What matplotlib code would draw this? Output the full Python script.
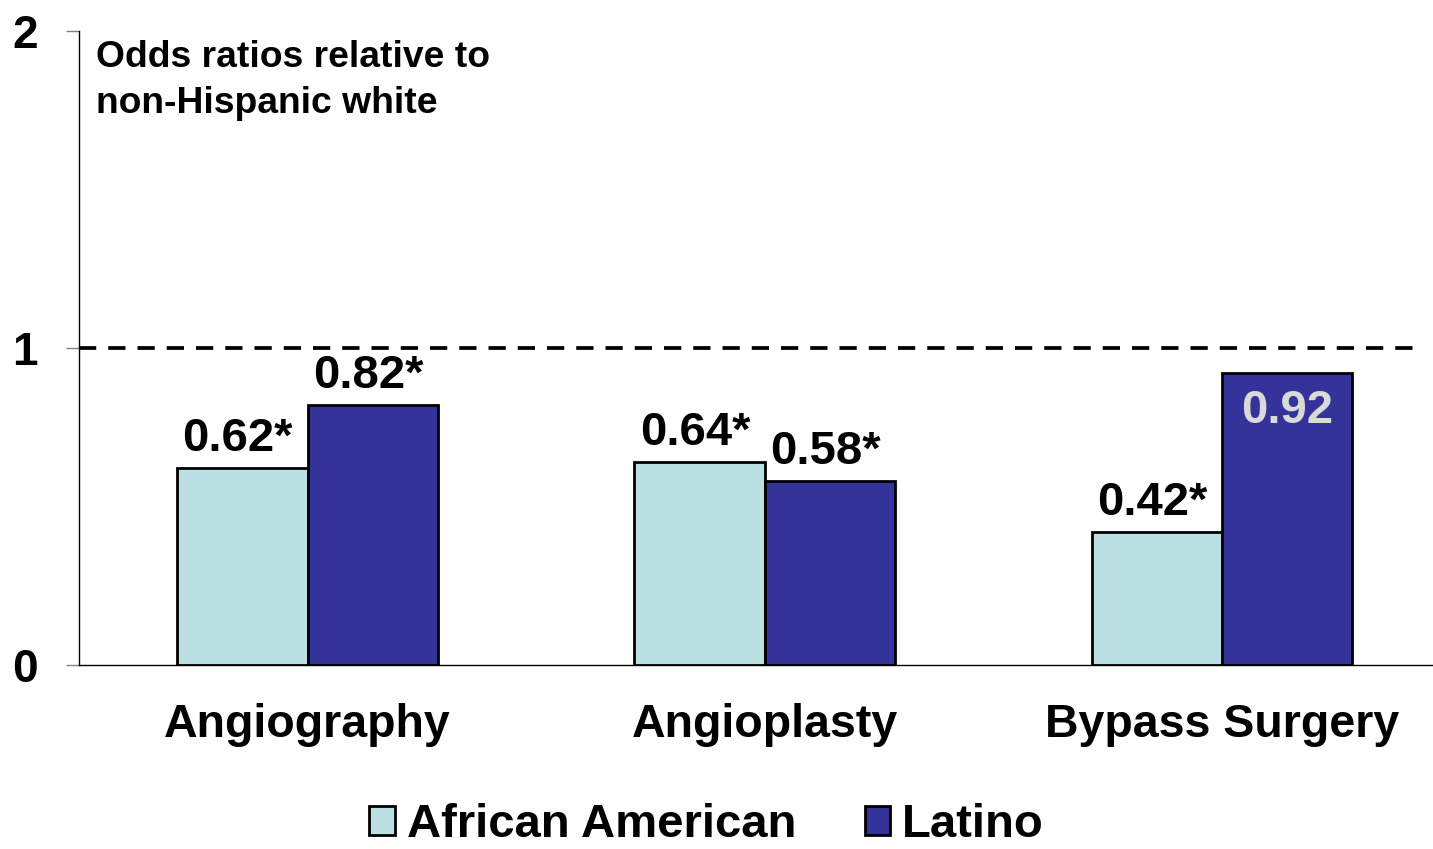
import numpy as np
import matplotlib
matplotlib.use("Agg")
import matplotlib.pyplot as plt
from matplotlib.patches import Patch

plt.rcParams["font.family"] = ["Liberation Sans", "DejaVu Sans"]
plt.rcParams["font.weight"] = "bold"

# ---------------------------------------------------------------------------
# Data: odds ratios relative to non-Hispanic white
# ---------------------------------------------------------------------------
procedures = ["Angiography", "Angioplasty", "Bypass Surgery"]
series_names = ["African American", "Latino"]
african_american = [0.62, 0.64, 0.42]
latino = [0.82, 0.58, 0.92]
aa_significant = [True, True, True]
latino_significant = [True, True, False]

colors = ["#BBE0E3", "#333399"]
bar_w = 0.285

fig = plt.figure(figsize=(14.33, 8.49), dpi=100)
ax = fig.add_axes([0.0551, 0.2167, 0.9449, 0.7468])

x = np.arange(len(procedures))
series = [african_american, latino]
flags = [aa_significant, latino_significant]
offsets = [-bar_w / 2, bar_w / 2]

for vals, sig, col, off in zip(series, flags, colors, offsets):
    bars = ax.bar(x + off, vals, width=bar_w, color=col,
                  edgecolor="black", linewidth=2.0, zorder=3)
    for b, v, s in zip(bars, vals, sig):
        cx = b.get_x() + b.get_width() / 2
        if s:
            ax.text(cx - 0.01, v + 0.022, f"{v:.2f}*", ha="center", va="bottom",
                    fontsize=34, fontweight="bold", color="black")
        else:
            # non-significant value sits inside the bar
            ax.text(cx, v - 0.05, f"{v:.2f}", ha="center", va="top",
                    fontsize=34, fontweight="bold", color="#D9D9D9")

# reference line at odds ratio = 1
ax.axhline(1.0, xmin=0.0, xmax=0.985, color="black", lw=2.7,
           dashes=(4.6, 3.2), zorder=2)

ax.set_xlim(-0.5, 2.462)
ax.set_ylim(0, 2)
ax.set_yticks([0, 1, 2])
ax.set_yticklabels(["0", "1", "2"])
ax.set_xticks(x)
ax.set_xticklabels(procedures)

ax.tick_params(axis="y", direction="out", length=9.5, width=1,
               color="#808080", pad=20, labelsize=33)
ax.tick_params(axis="x", length=0, pad=27, labelsize=33.5)
for lab in ax.get_xticklabels() + ax.get_yticklabels():
    lab.set_fontweight("bold")

for side in ["top", "right"]:
    ax.spines[side].set_visible(False)
ax.spines["left"].set_linewidth(1)
ax.spines["bottom"].set_linewidth(1)

ax.text(-0.463, 1.97, "Odds ratios relative to\nnon-Hispanic white",
        ha="left", va="top", fontsize=26.8, fontweight="bold",
        linespacing=1.38)

handles = [Patch(facecolor=c, edgecolor="black", linewidth=2.0) for c in colors]
fig.legend(handles, series_names, loc="center", bbox_to_anchor=(0.493, 0.028),
           ncol=2, frameon=False, handlelength=0.55,
           handleheight=0.55, handletextpad=0.25, columnspacing=1.45,
           borderpad=0.1, prop={"weight": "bold", "size": 34})

fig.savefig("out.png", dpi=100)
